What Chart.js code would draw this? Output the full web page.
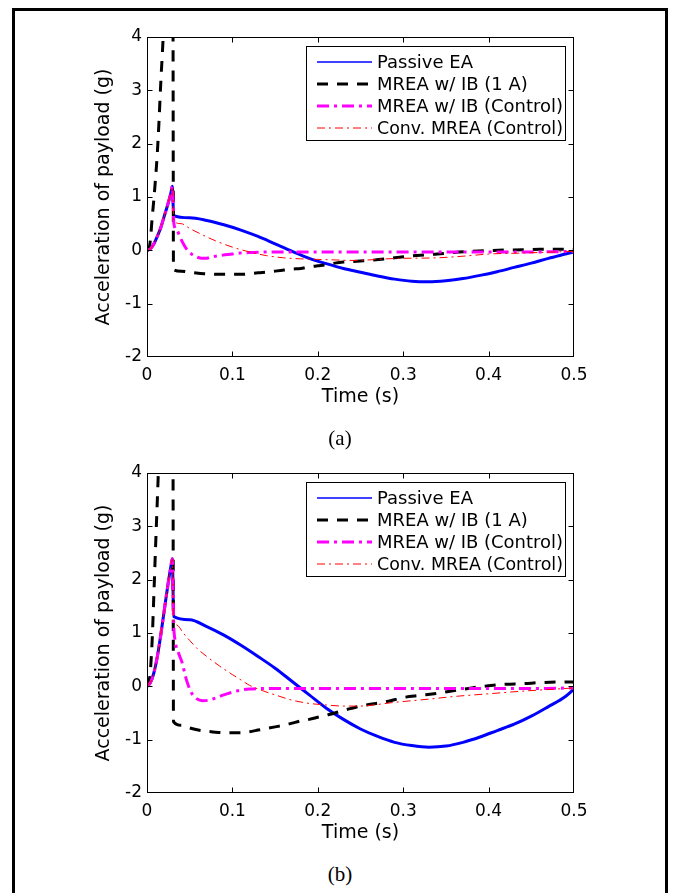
<!DOCTYPE html>
<html>
<head>
<meta charset="utf-8">
<script src="https://cdn.jsdelivr.net/npm/chart.js@4.4.0/dist/chart.umd.min.js"></script>
<style>
html,body{margin:0;padding:0;background:#fff;width:674px;height:893px;overflow:hidden;}
#frame{position:absolute;left:12px;top:8px;width:650px;height:900px;border:3px solid #000;}
.wrap{position:absolute;left:0;width:674px;height:420px;}
.cap{position:absolute;left:0;width:680px;text-align:center;font-family:"Liberation Serif","DejaVu Serif",serif;font-size:21px;line-height:24px;color:#000;}
</style>
</head>
<body>
<div id="frame"></div>
<div class="wrap" style="top:0px"><canvas id="ca" width="674" height="420"></canvas></div>
<div class="wrap" style="top:436px"><canvas id="cb" width="674" height="420"></canvas></div>
<div class="cap" style="top:426px">(a)</div>
<div class="cap" style="top:862px">(b)</div>
<script>
// ---------- tick labels ----------
const xTickValues = [0, 0.1, 0.2, 0.3, 0.4, 0.5];
const xTickLabels = ['0', '0.1', '0.2', '0.3', '0.4', '0.5'];
const yTickValues = [-2, -1, 0, 1, 2, 3, 4];
const yTickLabels = ['-2', '-1', '0', '1', '2', '3', '4'];
const seriesNames = ['Passive EA', 'MREA w/ IB (1 A)', 'MREA w/ IB (Control)', 'Conv. MREA (Control)'];

// ---------- panel (a) ----------
const tPassiveA = [0,0.004,0.008,0.012,0.016,0.02,0.024,0.028,0.0297,0.0312,0.05,0.07,0.09,0.11,0.13,0.15,0.17,0.19,0.21,0.23,0.25,0.27,0.29,0.31,0.33,0.35,0.37,0.39,0.41,0.43,0.45,0.47,0.49,0.5];
const vPassiveA = [0,0.03,0.12,0.26,0.42,0.63,0.84,1.08,1.2,0.65,0.61,0.56,0.48,0.38,0.26,0.12,-0.02,-0.15,-0.25,-0.34,-0.41,-0.48,-0.54,-0.58,-0.59,-0.57,-0.53,-0.47,-0.4,-0.32,-0.24,-0.15,-0.07,-0.03];

const tIB1A_A = [0,0.002,0.004,0.006,0.008,0.01,0.012,0.014,0.016,0.018,0.02,0.023,0.027,0.0303,0.031,0.04,0.05,0.06,0.07,0.08,0.09,0.1,0.11,0.12,0.13,0.14,0.15,0.16,0.17,0.18,0.19,0.2,0.21,0.22,0.23,0.24,0.25,0.26,0.28,0.3,0.32,0.34,0.36,0.38,0.4,0.42,0.44,0.46,0.48,0.5];
const vIB1A_A = [0,0.02,0.2,0.6,0.95,1.35,1.8,2.4,3.1,3.7,4.3,4.9,5.2,5.2,-0.36,-0.39,-0.41,-0.43,-0.44,-0.45,-0.45,-0.45,-0.45,-0.44,-0.42,-0.41,-0.39,-0.37,-0.35,-0.34,-0.31,-0.29,-0.27,-0.24,-0.22,-0.21,-0.2,-0.19,-0.16,-0.12,-0.09,-0.07,-0.04,-0.02,-0.005,0.005,0.01,0.02,0.02,0.02];

const tIBCtrlA = [0,0.004,0.008,0.012,0.016,0.02,0.024,0.028,0.0297,0.0315,0.035,0.0386,0.042,0.046,0.05,0.054,0.059,0.064,0.069,0.074,0.08,0.089,0.1,0.109,0.125,0.148,0.2,0.25,0.3,0.35,0.4,0.45,0.5];
const vIBCtrlA = [0,0.03,0.12,0.26,0.42,0.63,0.84,1.08,1.2,0.5,0.38,0.25,0.14,0.03,-0.04,-0.09,-0.13,-0.15,-0.15,-0.13,-0.11,-0.09,-0.07,-0.05,-0.04,-0.03,-0.03,-0.03,-0.03,-0.03,-0.03,-0.03,-0.02];

const tConvA = [0,0.004,0.008,0.012,0.016,0.02,0.024,0.028,0.0297,0.0315,0.04,0.05,0.065,0.08,0.1,0.12,0.14,0.16,0.18,0.2,0.22,0.24,0.26,0.28,0.3,0.34,0.37,0.4,0.44,0.48,0.5];
const vConvA = [0,0.03,0.12,0.26,0.42,0.63,0.84,1.08,1.2,0.55,0.5,0.41,0.29,0.18,0.06,-0.03,-0.1,-0.14,-0.16,-0.17,-0.18,-0.19,-0.18,-0.16,-0.15,-0.14,-0.11,-0.07,-0.05,-0.03,-0.02];

// ---------- panel (b) ----------
const tPassiveB = [0,0.004,0.008,0.012,0.016,0.02,0.024,0.028,0.0297,0.0312,0.05,0.07,0.09,0.11,0.13,0.15,0.17,0.19,0.21,0.23,0.25,0.27,0.29,0.31,0.33,0.35,0.37,0.39,0.41,0.43,0.45,0.47,0.49,0.5];
const vPassiveB = [0,0.07,0.25,0.55,0.95,1.4,1.85,2.25,2.39,1.31,1.25,1.12,0.96,0.77,0.56,0.34,0.09,-0.16,-0.41,-0.62,-0.8,-0.94,-1.05,-1.11,-1.14,-1.12,-1.05,-0.95,-0.83,-0.71,-0.56,-0.38,-0.19,-0.05];

const tIB1A_B = [0,0.002,0.004,0.006,0.008,0.01,0.012,0.014,0.017,0.022,0.0303,0.031,0.04,0.05,0.06,0.07,0.08,0.09,0.1,0.11,0.12,0.13,0.14,0.15,0.16,0.17,0.18,0.19,0.2,0.21,0.22,0.23,0.24,0.25,0.26,0.28,0.3,0.32,0.34,0.36,0.38,0.4,0.42,0.44,0.46,0.48,0.5];
const vIB1A_B = [0,0.05,0.3,0.85,1.7,2.6,3.45,4.3,5.3,5.6,5.6,-0.66,-0.73,-0.78,-0.82,-0.84,-0.86,-0.87,-0.87,-0.87,-0.85,-0.82,-0.79,-0.76,-0.73,-0.69,-0.65,-0.62,-0.58,-0.54,-0.5,-0.45,-0.41,-0.37,-0.34,-0.29,-0.21,-0.17,-0.13,-0.08,-0.03,0.01,0.04,0.05,0.07,0.08,0.08];

const tIBCtrlB = [0,0.004,0.008,0.012,0.016,0.02,0.024,0.028,0.0297,0.0312,0.033,0.037,0.041,0.046,0.052,0.058,0.065,0.072,0.08,0.09,0.1,0.11,0.12,0.14,0.2,0.25,0.3,0.35,0.4,0.45,0.5];
const vIBCtrlB = [0,0.07,0.25,0.55,0.95,1.4,1.85,2.25,2.39,1.2,0.85,0.62,0.45,0.13,-0.12,-0.23,-0.27,-0.26,-0.22,-0.16,-0.11,-0.07,-0.05,-0.04,-0.04,-0.04,-0.04,-0.04,-0.04,-0.04,-0.03];

const tConvB = [0,0.004,0.008,0.012,0.016,0.02,0.024,0.028,0.0297,0.0312,0.035,0.0425,0.05,0.06,0.07,0.085,0.1,0.11,0.12,0.135,0.15,0.17,0.19,0.21,0.23,0.25,0.27,0.29,0.31,0.33,0.36,0.4,0.44,0.48,0.5];
const vConvB = [0,0.07,0.25,0.55,0.95,1.4,1.85,2.25,2.39,1.25,1.15,1.0,0.86,0.69,0.56,0.38,0.22,0.12,0.02,-0.08,-0.16,-0.26,-0.32,-0.35,-0.37,-0.37,-0.34,-0.3,-0.27,-0.24,-0.19,-0.14,-0.09,-0.05,-0.03];

// ---------- helpers ----------
const FONT = '"DejaVu Sans", "Liberation Sans", sans-serif';
function pts(t, v) { return t.map((x, i) => ({x: x, y: v[i]})); }

const styles = [
  {color: '#0000ff', width: 3, dash: [], legendWidth: 1.5, order: 4},
  {color: '#000000', width: 3, dash: [11, 9], legendWidth: 3, order: 3},
  {color: '#ff00ff', width: 3, dash: [12, 5, 3, 5], legendWidth: 3, order: 2},
  {color: '#ff0000', width: 1, dash: [8, 4, 2, 4], legendWidth: 1, order: 1}
];

const framePlugin = {
  id: 'matlabFrame',
  afterDraw(chart) {
    const {ctx, chartArea: a, scales: {x, y}} = chart;
    ctx.save();
    ctx.strokeStyle = '#000';
    ctx.lineWidth = 1;
    const L = Math.round(a.left) + 0.5, R = Math.round(a.right) - 0.5;
    const T = Math.round(a.top) + 0.5, B = Math.round(a.bottom) - 0.5;
    ctx.strokeRect(L, T, R - L, B - T);
    const tl = 5;
    ctx.beginPath();
    xTickValues.forEach((v, i) => {
      if (i === 0 || i === xTickValues.length - 1) return;
      const px = Math.round(x.getPixelForValue(v)) + 0.5;
      ctx.moveTo(px, B); ctx.lineTo(px, B - tl);
      ctx.moveTo(px, T); ctx.lineTo(px, T + tl);
    });
    yTickValues.forEach((v, i) => {
      if (i === 0 || i === yTickValues.length - 1) return;
      const py = Math.round(y.getPixelForValue(v)) + 0.5;
      ctx.moveTo(L, py); ctx.lineTo(L + tl, py);
      ctx.moveTo(R, py); ctx.lineTo(R - tl, py);
    });
    ctx.stroke();

    // legend box
    const o = chart.options.plugins.matlabFrame;
    const bx = a.left + o.left, by = a.top + o.top;
    ctx.fillStyle = '#fff';
    ctx.fillRect(bx, by, o.width, o.height);
    ctx.strokeStyle = '#000';
    ctx.lineWidth = 1;
    ctx.strokeRect(Math.round(bx) + 0.5, Math.round(by) + 0.5, o.width, o.height);
    ctx.font = '18px ' + FONT;
    ctx.textBaseline = 'middle';
    ctx.textAlign = 'left';
    chart.data.datasets.forEach((ds, i) => {
      const yy = by + o.rows[i];
      ctx.save();
      ctx.strokeStyle = ds.borderColor;
      ctx.lineWidth = ds.legendWidth;
      ctx.setLineDash(ds.borderDash || []);
      ctx.beginPath();
      ctx.moveTo(bx + 11, yy); ctx.lineTo(bx + 66, yy);
      ctx.stroke();
      ctx.restore();
      ctx.fillStyle = '#000';
      const tx = bx + 71;
      ctx.fillText(ds.label, tx, yy + 1, o.width - 73);
    });
    ctx.restore();
  }
};

function makeChart(id, series) {
  const datasets = series.map((s, i) => ({
    label: seriesNames[i],
    data: pts(s[0], s[1]),
    borderColor: styles[i].color,
    borderWidth: styles[i].width,
    borderDash: styles[i].dash,
    legendWidth: styles[i].legendWidth,
    order: styles[i].order,
    pointRadius: 0,
    fill: false,
    cubicInterpolationMode: 'monotone',
    clip: 0
  }));
  return new Chart(document.getElementById(id), {
    type: 'line',
    data: {datasets},
    plugins: [framePlugin],
    options: {
      responsive: false,
      animation: false,
      events: [],
      layout: {padding: {left: 0, right: 100, top: 37, bottom: 0}},
      plugins: {
        legend: {display: false},
        tooltip: {enabled: false},
        matlabFrame: {left: 159, top: 9, width: 259, height: 94, rows: [16, 38, 60, 82]}
      },
      scales: {
        x: {
          type: 'linear', min: 0, max: 0.5,
          afterFit: s => { s.height = 63; },
          grid: {display: false, drawTicks: false},
          border: {display: false},
          ticks: {
            stepSize: 0.1, autoSkip: false, maxRotation: 0, padding: 8,
            color: '#000', font: {family: FONT, size: 17},
            callback: (v, i) => xTickLabels[i]
          },
          title: {display: true, text: 'Time (s)', color: '#000',
                  font: {family: FONT, size: 19}, padding: {top: 0, bottom: 11.6}}
        },
        y: {
          min: -2, max: 4,
          afterFit: s => { s.width = 147; },
          grid: {display: false, drawTicks: false},
          border: {display: false},
          ticks: {
            stepSize: 1, autoSkip: false, padding: 5,
            color: '#000', font: {family: FONT, size: 17},
            callback: (v, i) => yTickLabels[i]
          },
          title: {display: true, text: 'Acceleration of payload (g)', color: '#000',
                  font: {family: FONT, size: 19}, padding: {top: 92.6, bottom: 0}}
        }
      }
    }
  });
}

makeChart('ca', [[tPassiveA, vPassiveA], [tIB1A_A, vIB1A_A], [tIBCtrlA, vIBCtrlA], [tConvA, vConvA]]);
makeChart('cb', [[tPassiveB, vPassiveB], [tIB1A_B, vIB1A_B], [tIBCtrlB, vIBCtrlB], [tConvB, vConvB]]);
</script>
</body>
</html>
